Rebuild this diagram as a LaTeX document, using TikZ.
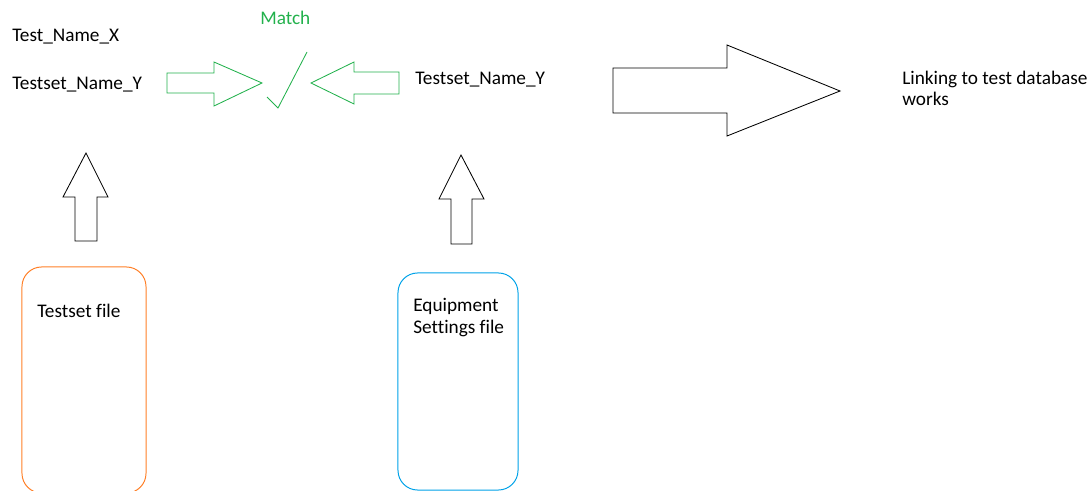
\documentclass[tikz,border=0pt]{standalone}
\usepackage{fontspec}
\setmainfont{Carlito}[Ligatures=NoCommon]
\usepackage{xcolor}
\definecolor{matchgreen}{RGB}{34, 177, 76}
\definecolor{fileorange}{RGB}{255, 127, 39}
\definecolor{fileblue}{RGB}{0, 162, 232}

\tikzset{
  lbl/.style={inner sep=0pt, anchor=base west, align=left,
    font=\fontsize{13.7}{15}\selectfont},
  filebox/.style={draw=#1, line width=0.7pt, rounded corners=14pt},
  blockarrow/.style={draw, line width=0.6pt, line join=miter},
}

\begin{document}
\begin{tikzpicture}[x=0.025cm, y=-0.025cm]
    \useasboundingbox (0,0) rectangle (1091,491);

    % Names read from the two files
    \node[lbl] (testname) at (12,42) {Test\_Name\_X};
    \node[lbl] (setnameA) at (12,90) {Testset\_Name\_Y};
    \node[lbl] (setnameB) at (415,85) {Testset\_Name\_Y};

    % Match
    \node[lbl, text=matchgreen] (match) at (260,25) {Match};
    \draw[blockarrow, matchgreen] (167,73) -- (214,73) -- (214,62) -- (262,83)
        -- (214,106) -- (214,93) -- (167,93) -- cycle;
    \draw[blockarrow, matchgreen] (399,72) -- (354,72) -- (354,62) -- (311,83)
        -- (354,104) -- (354,94) -- (399,94) -- cycle;
    \draw[matchgreen, line width=0.6pt] (267,97) -- (278,108) -- (307,52);

    % Result (base of a two-line node is its last line)
    \draw[blockarrow] (613,68) -- (727,68) -- (727,45) -- (840,91)
        -- (727,136) -- (727,113) -- (613,113) -- cycle;
    \node[lbl] (result) at (902,106) {Linking to test database\\works};

    % Testset file
    \node[filebox=fileorange, minimum width=3.1cm, minimum height=5.65cm] (tsfile) at (84,380) {};
    \node[lbl] (tsfilelbl) at (37,317) {Testset file};
    \draw[blockarrow] (75,241) -- (75,197) -- (63,197) -- (86,153)
        -- (108,197) -- (97,197) -- (97,241) -- cycle;

    % Equipment settings file
    \node[filebox=fileblue, minimum width=3.0cm, minimum height=5.425cm] (eqfile) at (458,381.5) {};
    \node[lbl] (eqfilelbl) at (413,333) {Equipment\\Settings file};
    \draw[blockarrow] (451,244) -- (451,199) -- (439,199) -- (461,155)
        -- (484,199) -- (472,199) -- (472,244) -- cycle;
\end{tikzpicture}
\end{document}
